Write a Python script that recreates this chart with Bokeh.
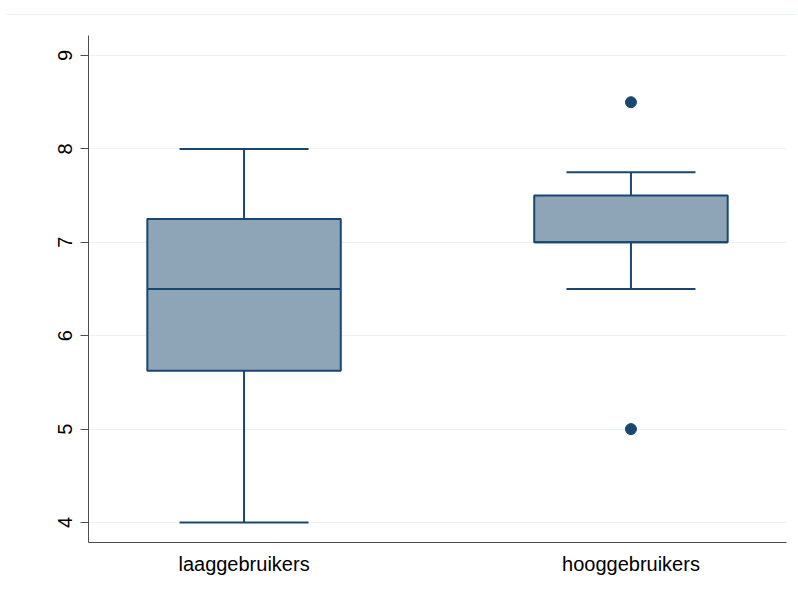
import numpy as np
from bokeh.plotting import figure
from bokeh.models import (ColumnDataSource, Range1d, FixedTicker, Whisker, TeeHead, Div)
from bokeh.layouts import column
from bokeh.embed import file_html
from bokeh.resources import INLINE

# ---- data ----
categories = ["laaggebruikers", "hooggebruikers"]
lower_whisker = [4.0, 6.5]
q1 = [5.625, 7.0]
median = [6.5, 7.0]
q3 = [7.25, 7.5]
upper_whisker = [8.0, 7.75]
outlier_group = ["hooggebruikers", "hooggebruikers"]
outlier_value = [8.5, 5.0]
y_ticks = [4, 5, 6, 7, 8, 9]

NAVY = "#1a476f"
FILL = "#8ea4b7"
GRID = "#eaf2f3"
FONT = "Liberation Sans"

pos = {c: i + 1 for i, c in enumerate(categories)}
xs = np.array([pos[c] for c in categories], dtype=float)
box_w = 0.5

src = ColumnDataSource(dict(
    x=xs, q1=q1, q3=q3, med=median, lo=lower_whisker, hi=upper_whisker,
    mx0=xs - box_w / 2, mx1=xs + box_w / 2,
))
out_src = ColumnDataSource(dict(x=[pos[g] for g in outlier_group], y=outlier_value))

p = figure(width=790, height=562, output_backend="svg", toolbar_location=None,
           x_range=Range1d(0.598, 2.402), y_range=Range1d(3.786, 9.214),
           min_border_left=88, min_border_right=4, min_border_top=15,
           min_border_bottom=40)
p.outline_line_color = None
p.background_fill_color = "white"
p.border_fill_color = "white"

# whiskers
up = Whisker(source=src, base="x", lower="q3", upper="hi", dimension="height",
             line_color=NAVY, line_width=2, lower_head=None,
             upper_head=TeeHead(size=129, line_color=NAVY, line_width=2))
lo = Whisker(source=src, base="x", lower="lo", upper="q1", dimension="height",
             line_color=NAVY, line_width=2, upper_head=None,
             lower_head=TeeHead(size=129, line_color=NAVY, line_width=2))
p.add_layout(up)
p.add_layout(lo)

# boxes
p.vbar(x="x", width=box_w, bottom="q1", top="q3", source=src,
       fill_color=FILL, line_color=NAVY, line_width=2)
p.segment(x0="mx0", x1="mx1", y0="med", y1="med", source=src,
          line_color=NAVY, line_width=2)

# outliers
p.scatter(x="x", y="y", source=out_src, size=11, fill_color=NAVY, line_color=NAVY)

# axes
p.xaxis.ticker = FixedTicker(ticks=list(xs))
p.xaxis.major_label_overrides = {float(pos[c]): c for c in categories}
p.xaxis.major_label_overrides.update({int(pos[c]): c for c in categories})
p.xaxis.major_tick_in = 0
p.xaxis.major_tick_out = 0
p.xaxis.minor_tick_line_color = None
p.xaxis.major_label_standoff = 10
p.xgrid.grid_line_color = None

p.yaxis.ticker = FixedTicker(ticks=y_ticks)
p.yaxis.major_label_orientation = "vertical"
p.yaxis.major_tick_in = 0
p.yaxis.major_tick_out = 8
p.yaxis.minor_tick_line_color = None
p.yaxis.major_label_standoff = 8
p.ygrid.ticker = FixedTicker(ticks=y_ticks)
p.ygrid.grid_line_color = GRID
p.ygrid.grid_line_width = 1

for ax in (p.xaxis[0], p.yaxis[0]):
    ax.axis_line_color = "#4d4d4d"
    ax.axis_line_width = 1
    ax.major_tick_line_color = "#4d4d4d"
    ax.major_label_text_font = FONT
    ax.major_label_text_font_size = "20px"
    ax.major_label_text_color = "black"

top_line = Div(text="", width=790, height=10,
               styles={"border-bottom": f"1px solid {GRID}", "margin-left": "6px"})

layout = column(top_line, p, spacing=0)
open("out.html", "w").write(file_html(layout, INLINE))
